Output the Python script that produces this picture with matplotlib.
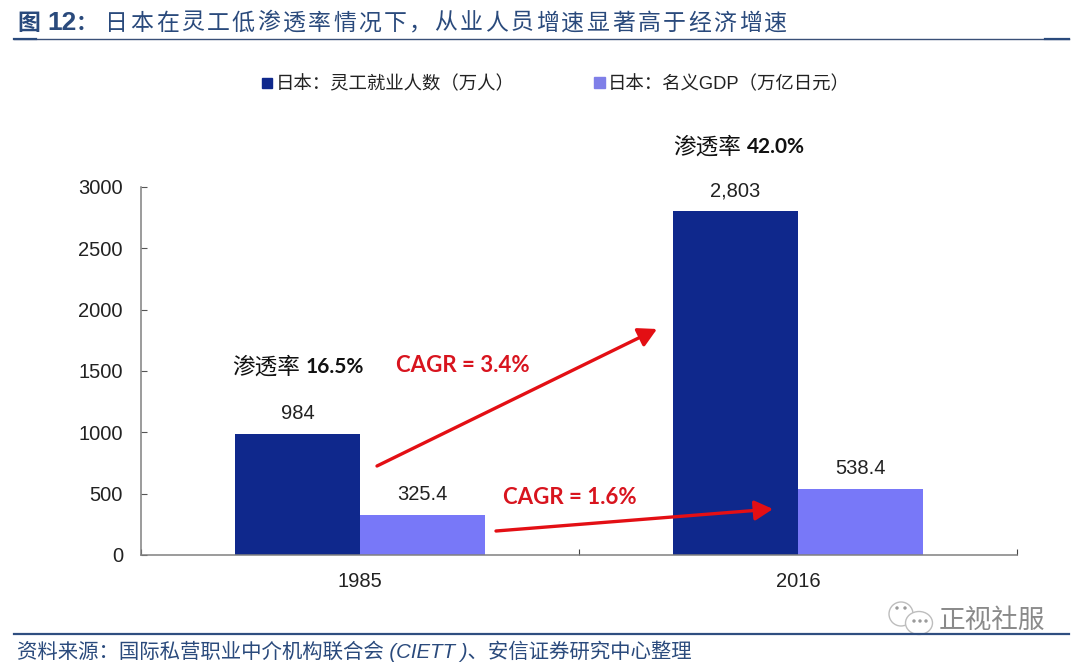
import matplotlib
matplotlib.use('Agg')
import matplotlib.pyplot as plt
from matplotlib.patches import Rectangle, Ellipse, FancyArrowPatch

plt.rcParams['font.family'] = ['Liberation Sans', 'Noto Sans CJK SC', 'DejaVu Sans']

categories = ['1985', '2016']
series_names = ['日本：灵工就业人数（万人）', '日本：名义GDP（万亿日元）']
workers = [984, 2803]
gdp = [325.4, 538.4]
worker_labels = ['984', '2,803']
gdp_labels = ['325.4', '538.4']
yticks = [0, 500, 1000, 1500, 2000, 2500, 3000]
title_head = '图'
title_num = '12'
title_colon = '：'
title_body = '日本在灵工低渗透率情况下，从业人员增速显著高于经济增速'
source = '资料来源：国际私营职业中介机构联合会 (CIETT )、安信证券研究中心整理'

W, H = 1080, 667
NAVY = '#0F288C'
LILAC = '#7878F8'
TITLE = '#2A4A7C'
INK = '#222222'
fig = plt.figure(figsize=(W/100, H/100), dpi=100)

def fx(x): return x / W
def fy(y): return 1 - y / H

ax = fig.add_axes([fx(141), fy(555), (1017-141)/W, (555-187)/H])
bw = 125 / 438
xs = range(len(categories))
ax.bar([x - bw/2 for x in xs], workers, bw, color=NAVY)
ax.bar([x + bw/2 for x in xs], gdp, bw, color=LILAC)
ax.set_xlim(-0.5, 1.5)
ax.set_ylim(0, 3000)
ax.set_yticks(yticks)
ax.set_xticks([-0.5, 0.5, 1.5])
ax.set_xticklabels([])
ax.set_xticks(list(xs), categories, minor=True)
ax.tick_params(axis='x', which='minor', length=0, labelsize=14.5, pad=12.5, labelcolor=INK)
ax.tick_params(axis='x', which='major', length=4, color='#444444', direction='in')
ax.tick_params(axis='y', length=4, color='#555555', labelsize=14.5, pad=13, direction='in', labelcolor=INK)
for s in ['top', 'right']:
    ax.spines[s].set_visible(False)
for s in ['left', 'bottom']:
    ax.spines[s].set_color('#808080')
    ax.spines[s].set_linewidth(1.1)

for x, v, t in zip(xs, workers, worker_labels):
    ax.annotate(t, (x - bw/2, v), xytext=(0, 8), textcoords='offset points', ha='center', va='bottom', fontsize=14.5, color=INK)
for x, v, t in zip(xs, gdp, gdp_labels):
    ax.annotate(t, (x + bw/2, v), xytext=(0, 8), textcoords='offset points', ha='center', va='bottom', fontsize=14.5, color=INK)

# title
fig.text(fx(17), fy(23), title_head, fontsize=16.5, color=TITLE, va='center', family=['Noto Sans CJK SC'], fontweight='bold')
fig.text(fx(47), fy(23), title_num, fontsize=19, color=TITLE, va='center', fontweight='bold')
fig.text(fx(76), fy(23), title_colon, fontsize=15.5, color=TITLE, va='center', family=['Noto Sans CJK SC'], fontweight='bold')
step = (788 - 104) / len(title_body)
for i, ch in enumerate(title_body):
    fig.text(fx(104 + step * (i + 0.5)), fy(23), ch, fontsize=16.5, color=TITLE, va='center', ha='center',
             family=['Noto Sans CJK SC'], fontweight='medium')
fig.add_artist(plt.Line2D([fx(14), fx(1069)], [fy(38.5)]*2, color='#3A5078', lw=1.0))
fig.add_artist(plt.Line2D([fx(14), fx(36)], [fy(39)]*2, color=TITLE, lw=1.6))
fig.add_artist(plt.Line2D([fx(1045), fx(1069)], [fy(39)]*2, color=TITLE, lw=1.6))

# legend
fig.add_artist(Rectangle((fx(262), fy(88)), 10/W, 10/H, color=NAVY, transform=fig.transFigure))
fig.text(fx(276), fy(84), series_names[0], fontsize=13.25, color=INK, va='center')
fig.add_artist(Rectangle((fx(594), fy(88)), 11/W, 11/H, color='#7F7FE8', transform=fig.transFigure))
fig.text(fx(608), fy(84), series_names[1], fontsize=13.25, color=INK, va='center')

# annotations
for px, py, pct in [(232, 367, '16.5%'), (673, 147, '42.0%')]:
    fig.text(fx(px), fy(py), '渗透率', fontsize=16.3, color='#111111', va='center')
    fig.text(fx(px + 74), fy(py), pct, fontsize=15, color='#111111', va='center', family=['Lato'], fontweight='bold')
fig.text(fx(396), fy(366), 'CAGR = 3.4%', fontsize=16, color='#D8141E', va='center', family=['Lato'], fontweight='bold')
fig.text(fx(503), fy(497), 'CAGR = 1.6%', fontsize=16, color='#D8141E', va='center', family=['Lato'], fontweight='bold')

for (x0, y0, x1, y1) in [(377, 466, 657, 329), (496, 531, 773, 509)]:
    fig.add_artist(FancyArrowPatch(
        (fx(x0), fy(y0)), (fx(x1), fy(y1)), transform=fig.transFigure,
        arrowstyle='-|>,head_length=11,head_width=6', color='#E30F14', lw=2.4, shrinkA=0, shrinkB=0))

# footer
fig.add_artist(plt.Line2D([fx(14), fx(1069)], [fy(634)]*2, color='#2F4E80', lw=1.6))
fig.text(fx(17), fy(651), source, fontsize=14.7, color=TITLE, va='center', style='italic')

# watermark
fig.text(fx(939), fy(620), '正视社服', fontsize=19.2, color='#8A8A8A', va='center', family=['Noto Sans CJK SC'], fontweight='light')
for cx, cy, w, h in [(901, 614, 24, 24), (919, 623, 27, 23)]:
    fig.add_artist(Ellipse((fx(cx), fy(cy)), w/W, h/H, transform=fig.transFigure,
                           facecolor='white', edgecolor='#BDBDBD', lw=1.0))
for ex, ey in [(897, 608), (905, 608), (914, 621), (920, 621), (926, 621)]:
    fig.add_artist(Ellipse((fx(ex), fy(ey)), 2/W, 2/H, transform=fig.transFigure, color='#9A9A9A'))

fig.savefig('out.png', dpi=100)
